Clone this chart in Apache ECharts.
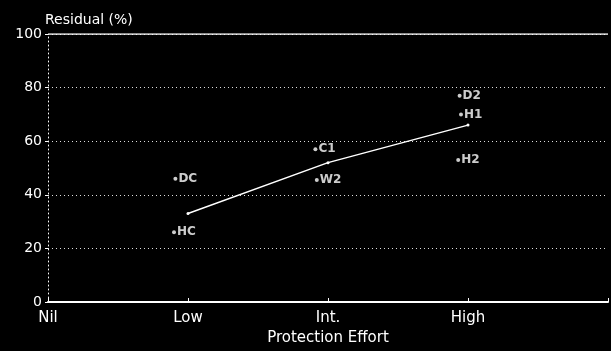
<!DOCTYPE html>
<html>
<head>
<meta charset="utf-8">
<script src="https://cdn.jsdelivr.net/npm/echarts@6/dist/echarts.min.js"></script>
<style>
  html, body { margin: 0; padding: 0; background: #000; }
  #chart { width: 611px; height: 351px; }
</style>
</head>
<body>
<div id="chart"></div>
<script>
// Category positions on the effort axis
const effortLabels = ['Nil', 'Low', 'Int.', 'High'];

// Mean residual line
const meanX = [1, 2, 3];
const meanY = [33, 52, 66];

// Individual cases
const caseNames = ['DC', 'HC', 'C1', 'W2', 'D2', 'H1', 'H2'];
const caseX = [0.91, 0.90, 1.91, 1.92, 2.94, 2.95, 2.93];
const caseY = [46, 26, 57, 45.5, 77, 70, 53];

const chart = echarts.init(document.getElementById('chart'));

const font = 'DejaVu Sans, sans-serif';

chart.setOption({
  backgroundColor: '#000',
  animation: false,
  grid: { left: 48, top: 34, width: 567, height: 271 },
  xAxis: {
    type: 'value',
    min: 0, max: 4, interval: 1,
    name: 'Protection Effort',
    nameLocation: 'middle', nameGap: 29,
    nameTextStyle: { color: '#fff', fontSize: 15, fontFamily: font },
    axisLine: { lineStyle: { color: '#fff', width: 2 } },
    axisTick: { inside: true, length: 4, lineStyle: { color: '#fff' } },
    axisLabel: {
      color: '#fff', fontSize: 15, fontFamily: font, margin: 9,
      formatter: v => effortLabels[v] ?? ''
    },
    splitLine: { show: false }
  },
  yAxis: {
    type: 'value',
    min: 0, max: 100, interval: 20,
    name: 'Residual (%)',
    nameLocation: 'end', nameGap: 5,
    nameTextStyle: { color: '#fff', fontSize: 14, fontFamily: font, align: 'left', padding: [0, 0, 0, -3] },
    axisLine: { show: true, lineStyle: { color: '#fff', width: 1, type: [1, 3] } },
    axisTick: { show: true, length: 3, lineStyle: { color: '#fff' } },
    axisLabel: { color: '#fff', fontSize: 14, fontFamily: font, margin: 6 },
    splitLine: { lineStyle: { color: '#ddd', width: 1, type: [1, 3] } }
  },
  series: [
    {
      type: 'line',
      data: meanX.map((x, i) => [x, meanY[i]]),
      symbol: 'circle', symbolSize: 3,
      lineStyle: { color: '#fff', width: 1.5 },
      itemStyle: { color: '#fff' }
    },
    {
      type: 'line',
      data: [[0, 100], [4, 100]],
      symbol: 'none',
      lineStyle: { color: '#fff', width: 1.5 },
      silent: true
    },
    {
      type: 'scatter',
      data: caseX.map((x, i) => ({ value: [x, caseY[i]], name: caseNames[i] })),
      symbol: 'circle', symbolSize: 4,
      itemStyle: { color: '#fff' },
      label: {
        show: true, position: 'right', distance: 1,
        formatter: p => p.name,
        color: '#fff', fontSize: 12, fontWeight: 'bold', fontFamily: font
      }
    }
  ]
});
</script>
</body>
</html>
